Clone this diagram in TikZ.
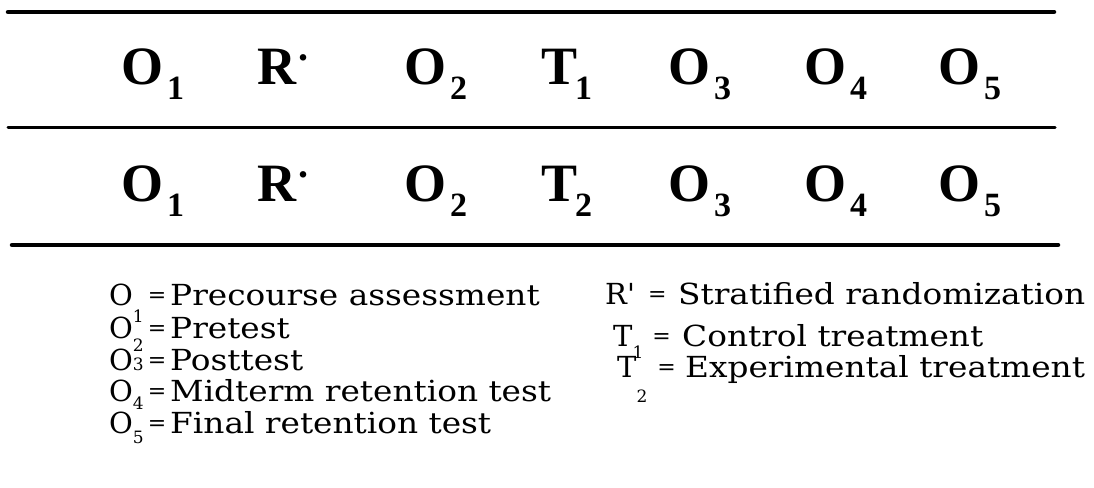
\documentclass[tikz,border=0pt]{standalone}
\usepackage{fontspec}
\setmainfont[FakeStretch=1.13]{DejaVu Serif}
\newfontfamily\keyfont{DejaVu Serif}
\newfontfamily\tabfont{Liberation Serif}
\usetikzlibrary{positioning}

\newcommand{\tsub}[1]{\hspace{4pt}\raisebox{-15pt}{\fontsize{34}{34}\selectfont #1}}
\newcommand{\lsub}[2][-17pt]{\raisebox{#1}{\fontsize{17}{17}\selectfont #2}}
\newcommand{\tprime}{\hspace{2pt}\raisebox{24pt}{\fontsize{40}{40}\selectfont .}}
\newcommand{\keyeq}{\raisebox{2.5pt}{\fontsize{22}{22}\selectfont =}}

\begin{document}
\begin{tikzpicture}[
    x=1pt, y=-1pt,
    rulethick/.style={line width=4.5pt, line cap=round},
    rulethin/.style={line width=3pt, line cap=round},
    cell/.style={anchor=base west, inner sep=0pt,
                 font=\tabfont\bfseries\fontsize{54}{54}\selectfont},
    key/.style={anchor=base west, inner sep=0pt,
                font=\keyfont\fontsize{29}{29}\selectfont},
    desc/.style={anchor=base west, inner sep=0pt,
                 font=\fontsize{29}{29}\selectfont}
]
\useasboundingbox (0,0) rectangle (1094,487);

% rules of the table
\draw[rulethick] (8,12) -- (1054,12);
\draw[rulethin]  (8,127) -- (1055,127);
\draw[rulethick] (12,245) -- (1058,245);

% control group
\node[cell] (ao1) at (121,84) {O\tsub{1}};
\node[cell] (ar)  at (257,84) {R\tprime};
\node[cell] (ao2) at (404,84) {O\tsub{2}};
\node[cell] (at1) at (541,84) {T\hspace{-6pt}\tsub{1}};
\node[cell] (ao3) at (668,84) {O\tsub{3}};
\node[cell] (ao4) at (804,84) {O\tsub{4}};
\node[cell] (ao5) at (938,84) {O\tsub{5}};

% experimental group
\node[cell] (bo1) at (121,201) {O\tsub{1}};
\node[cell] (br)  at (257,201) {R\tprime};
\node[cell] (bo2) at (404,201) {O\tsub{2}};
\node[cell] (bt2) at (541,201) {T\hspace{-6pt}\tsub{2}};
\node[cell] (bo3) at (668,201) {O\tsub{3}};
\node[cell] (bo4) at (804,201) {O\tsub{4}};
\node[cell] (bo5) at (938,201) {O\tsub{5}};

% legend, left column
\node[key] (ko1) at (109,305) {O\lsub[-17pt]{1}\hspace{4pt}\keyeq};
\node[key] (ko2) at (109,338) {O\lsub[-13pt]{2}\hspace{4pt}\keyeq};
\node[key] (ko3) at (109,370) {O\lsub[0pt]{3}\hspace{4pt}\keyeq};
\node[key] (ko4) at (109,401) {O\lsub[-8pt]{4}\hspace{4pt}\keyeq};
\node[key] (ko5) at (109,433) {O\lsub[-10pt]{5}\hspace{4pt}\keyeq};
\node[desc] (do1) at (170,305) {Precourse assessment};
\node[desc] (do2) at (170,338) {Pretest};
\node[desc] (do3) at (170,370) {Posttest};
\node[desc] (do4) at (170,401) {Midterm retention test};
\node[desc] (do5) at (170,433) {Final retention test};

% legend, right column
\node[key] (kr)  at (605,304) {R'\hspace{13pt}\keyeq};
\node[key] (kt1) at (613,346) {T\lsub[-12pt]{1}\hspace{9pt}\keyeq};
\node[key] (kt2) at (617,377) {T\lsub[-25pt]{2}\hspace{10pt}\keyeq};
\node[desc] (dr)  at (678,304) {Stratified randomization};
\node[desc] (dt1) at (682,346) {Control treatment};
\node[desc] (dt2) at (685,377) {Experimental treatment};
\end{tikzpicture}
\end{document}
